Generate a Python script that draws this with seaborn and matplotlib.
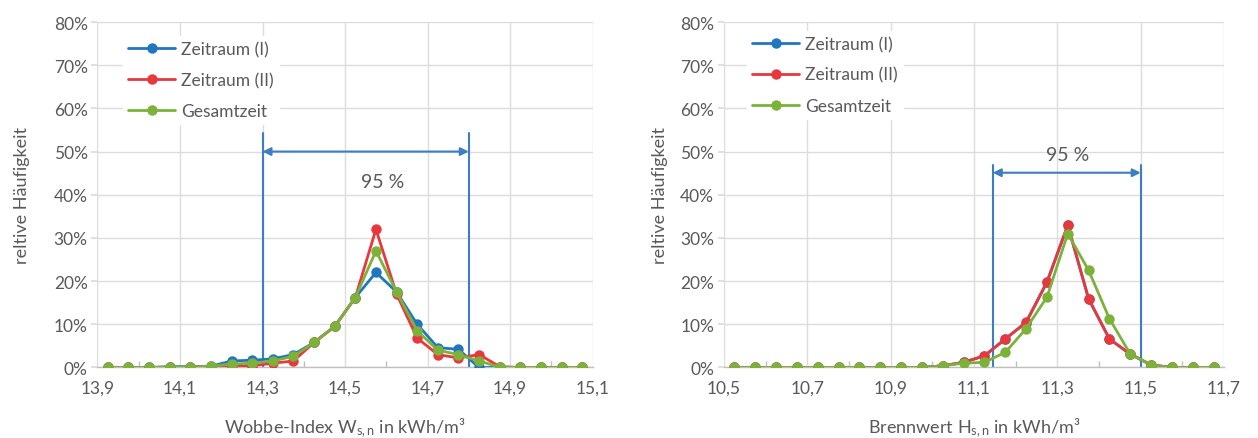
import matplotlib
matplotlib.use("Agg")
import matplotlib.pyplot as plt
import pandas as pd
import seaborn as sns
from matplotlib.ticker import FuncFormatter, MultipleLocator
from matplotlib.lines import Line2D

# Wobbe-Index: bin centres in kWh/m³ and relative frequency in %
wobbe_bins = [13.925, 13.975, 14.025, 14.075, 14.125, 14.175, 14.225, 14.275,
              14.325, 14.375, 14.425, 14.475, 14.525, 14.575, 14.625, 14.675,
              14.725, 14.775, 14.825, 14.875, 14.925, 14.975, 15.025, 15.075]
wobbe_zeitraum_1 = [0, 0, 0, 0.2, 0.2, 0.3, 1.5, 1.7, 2.0, 3.0, 5.8, 9.5,
                    16.2, 22.0, 17.5, 10.0, 4.6, 4.2, 0, 0, 0, 0, 0, 0]
wobbe_zeitraum_2 = [0, 0, 0, 0, 0, 0.2, 0.3, 0.4, 1.0, 1.5, 5.8, 9.5,
                    16.2, 32.0, 17.0, 6.8, 3.0, 2.2, 3.0, 0.2, 0, 0, 0, 0]
wobbe_gesamt = [0, 0, 0, 0.1, 0.1, 0.3, 0.8, 1.0, 1.5, 2.6, 5.8, 9.5,
                16.2, 27.0, 17.5, 8.5, 4.0, 3.0, 1.5, 0.1, 0, 0, 0, 0]

# Brennwert: bin centres in kWh/m³ and relative frequency in %
brenn_bins = [10.525, 10.575, 10.625, 10.675, 10.725, 10.775, 10.825, 10.875,
              10.925, 10.975, 11.025, 11.075, 11.125, 11.175, 11.225, 11.275,
              11.325, 11.375, 11.425, 11.475, 11.525, 11.575, 11.625, 11.675]
brenn_zeitraum_1 = [0, 0, 0, 0, 0, 0, 0, 0, 0, 0, 0.4, 1.2, 2.7, 6.6, 10.4,
                    19.7, 32.9, 15.9, 6.6, 3.1, 0.6, 0, 0, 0]
brenn_zeitraum_2 = [0, 0, 0, 0, 0, 0, 0, 0, 0, 0, 0.4, 1.2, 2.7, 6.6, 10.5,
                    19.8, 33.0, 15.9, 6.6, 3.1, 0.6, 0, 0, 0]
brenn_gesamt = [0, 0, 0, 0, 0, 0, 0, 0, 0, 0, 0.4, 1.0, 1.2, 3.5, 9.0,
                16.3, 31.0, 22.5, 11.3, 3.1, 0.6, 0, 0, 0]

series_names = ["Zeitraum (I)", "Zeitraum (II)", "Gesamtzeit"]
series_colors = ["#1F77C0", "#E8383D", "#7DB23A"]

# 95 % ranges: (lower, upper, arrow height, line top, label x, label y)
wobbe_range = (14.3, 14.8, 50.0, 54.3, 14.592, 43.0)
brenn_range = (11.145, 11.5, 45.1, 47.0, 11.325, 49.4)

wobbe_ticks = [13.9, 14.1, 14.3, 14.5, 14.7, 14.9, 15.1]
brenn_ticks = [10.5, 10.7, 10.9, 11.1, 11.3, 11.5, 11.7]

TEXT = "#595959"
GRID = "#DCDCDC"
RANGE_COLOR = "#3C7DC4"

sns.set_theme(style="white")
plt.rcParams["font.family"] = ["Lato", "DejaVu Sans"]
plt.rcParams["mathtext.fontset"] = "custom"
plt.rcParams["mathtext.rm"] = "Lato"
plt.rcParams["mathtext.it"] = "Lato"


def long_frame(bins, s1, s2, s3):
    parts = []
    for name, vals in zip(series_names, (s1, s2, s3)):
        parts.append(pd.DataFrame({"x": bins, "y": vals, "Serie": name}))
    return pd.concat(parts, ignore_index=True)


def draw_panel(ax, df, ticks, rng, xlabel, legend_xy):
    sns.lineplot(data=df, x="x", y="y", hue="Serie", hue_order=series_names,
                 palette=series_colors, marker="o", markersize=7.5,
                 markeredgewidth=0, linewidth=2.0, errorbar=None,
                 legend=False, ax=ax, zorder=3)

    ax.set_xlim(ticks[0], ticks[-1])
    ax.set_ylim(0, 80)
    ax.set_xticks(ticks)
    ax.xaxis.set_minor_locator(MultipleLocator(0.1))
    ax.set_yticks(range(0, 81, 10))
    ax.xaxis.set_major_formatter(
        FuncFormatter(lambda v, p: f"{v:.1f}".replace(".", ",")))
    ax.yaxis.set_major_formatter(FuncFormatter(lambda v, p: f"{v:.0f}%"))

    ax.grid(True, which="major", color=GRID, linewidth=1.0, zorder=0)
    for side in ("top", "right", "left"):
        ax.spines[side].set_visible(False)
    ax.spines["bottom"].set_color("#BFBFBF")
    ax.spines["bottom"].set_linewidth(1.0)

    ax.tick_params(axis="x", which="major", direction="out", length=4,
                   color="#BFBFBF", labelsize=12.5, labelcolor=TEXT, pad=5)
    ax.tick_params(axis="x", which="minor", direction="in", length=4,
                   color="#BFBFBF", bottom=True)
    ax.tick_params(axis="y", which="major", direction="out", length=4,
                   color=GRID, labelsize=12.5, labelcolor=TEXT, pad=3, left=True)

    lo, hi, arrow_y, line_top, lab_x, lab_y = rng
    ax.plot([lo, lo], [0, line_top], color=RANGE_COLOR, linewidth=1.5, zorder=2)
    ax.plot([hi, hi], [0, line_top], color=RANGE_COLOR, linewidth=1.5, zorder=2)
    ax.annotate("", xy=(lo, arrow_y), xytext=(hi, arrow_y),
                arrowprops=dict(arrowstyle="<|-|>", color=RANGE_COLOR,
                                lw=1.5, mutation_scale=12,
                                shrinkA=0, shrinkB=0), zorder=2)
    ax.text(lab_x, lab_y, "95 %", ha="center", va="center",
            fontsize=14, color=TEXT)

    ax.set_xlabel(xlabel, fontsize=13, color=TEXT)
    ax.set_ylabel("reltive Häufigkeit", fontsize=13, color=TEXT)
    ax.xaxis.set_label_coords(0.5, -0.14)

    handles = [Line2D([], [], color=c, marker="o", markersize=7.5,
                      markeredgewidth=0, linewidth=2.0) for c in series_colors]
    leg = ax.legend(handles, series_names, loc="upper left",
                    bbox_to_anchor=legend_xy, frameon=True,
                    fontsize=12.5, handlelength=2.7, handletextpad=0.35,
                    labelspacing=0.85, borderpad=0.3, borderaxespad=0)
    leg.get_frame().set_facecolor("white")
    leg.get_frame().set_edgecolor("white")
    leg.get_frame().set_alpha(1.0)
    for t in leg.get_texts():
        t.set_color(TEXT)


fig = plt.figure(figsize=(12.58, 4.39), dpi=100)
ax1 = fig.add_axes([0.0775, 0.1606, 0.3935, 0.787])
ax2 = fig.add_axes([0.5755, 0.1606, 0.3975, 0.787])

draw_panel(ax1, long_frame(wobbe_bins, wobbe_zeitraum_1, wobbe_zeitraum_2,
                           wobbe_gesamt),
           wobbe_ticks, wobbe_range,
           r"Wobbe-Index W$_{\mathrm{s,n}}$ in kWh/m³", (0.052, 0.96))
draw_panel(ax2, long_frame(brenn_bins, brenn_zeitraum_1, brenn_zeitraum_2,
                           brenn_gesamt),
           brenn_ticks, brenn_range,
           r"Brennwert H$_{\mathrm{s,n}}$ in kWh/m³", (0.046, 0.975))

ax1.yaxis.set_label_coords(-0.137, 0.5)
ax2.yaxis.set_label_coords(-0.112, 0.5)

fig.savefig("out.png", dpi=100, facecolor="white")
